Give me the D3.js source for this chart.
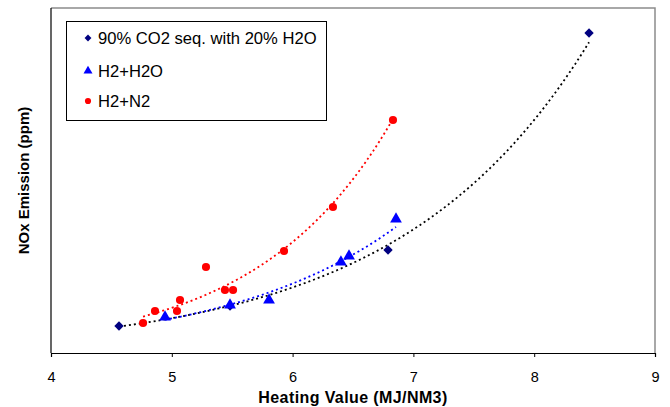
<!DOCTYPE html>
<html><head><meta charset="utf-8">
<script src="https://cdn.jsdelivr.net/npm/d3@7"></script>
<style>body{margin:0;background:#fff}svg{display:block}</style>
</head><body>
<script>
// Data (y in relative units; the original chart shows no y tick labels)
const seriesNames = ["90% CO2 seq. with 20% H2O", "H2+H2O", "H2+N2"];
const co2X = [4.563, 5.482, 6.79, 8.454];
const co2Y = [7.83, 13.62, 29.86, 92.75];
const h2oX = [4.944, 5.482, 5.805, 6.40, 6.467, 6.856];
const h2oY = [10.43, 13.91, 15.36, 26.38, 28.12, 38.84];
const n2X = [4.762, 4.861, 5.043, 5.068, 5.283, 5.44, 5.507, 5.929, 6.334, 6.831];
const n2Y = [8.70, 12.17, 12.17, 15.36, 24.93, 18.26, 18.26, 29.57, 42.32, 67.54];
const xTicks = [4, 5, 6, 7, 8, 9];

const W = 670, H = 407;
const L = 51, R = 655, T = 8, B = 353;
const svg = d3.select("body").append("svg").attr("width", W).attr("height", H);
const x = d3.scaleLinear().domain([4, 9]).range([L, R]);
const y = d3.scaleLinear().domain([0, 100]).range([B, T]);

// plot frame (gray top/right)
svg.append("path").attr("d", `M${L},${T}H${R}V${B}`).attr("fill", "none").attr("stroke", "#8c8c8c").attr("stroke-width", 1.5);

// axes
const xAxis = svg.append("g").attr("transform", `translate(0,${B})`)
  .call(d3.axisBottom(x).tickValues(xTicks).tickSize(4).tickPadding(15).tickFormat(d3.format("d")));
xAxis.select(".domain").attr("stroke", "#000").attr("stroke-width", 1.2);
xAxis.selectAll(".tick line").attr("stroke", "#000");
xAxis.selectAll("text").attr("font-family", "Liberation Sans, Arial, sans-serif").attr("font-size", 14.5).attr("fill", "#000");
svg.append("line").attr("x1", L).attr("x2", L).attr("y1", T).attr("y2", B).attr("stroke", "#000").attr("stroke-width", 1.2);

// axis titles
svg.append("text").attr("x", (L + R) / 2).attr("y", 403).attr("text-anchor", "middle")
  .attr("font-family", "Liberation Sans, Arial, sans-serif").attr("font-weight", "bold").attr("font-size", 16)
  .attr("letter-spacing", 0.4)
  .text("Heating Value (MJ/NM3)");
svg.append("text").attr("transform", `translate(29,${(T + B) / 2}) rotate(-90)`).attr("text-anchor", "middle")
  .attr("font-family", "Liberation Sans, Arial, sans-serif").attr("font-weight", "bold").attr("font-size", 15)
  .text("NOx Emission (ppm)");

// exponential trendline fit (least squares on ln y)
function expFit(xs, ys) {
  const n = xs.length, ly = ys.map(Math.log);
  const mx = d3.mean(xs), my = d3.mean(ly);
  let sxx = 0, sxy = 0;
  for (let i = 0; i < n; i++) { sxx += (xs[i] - mx) ** 2; sxy += (xs[i] - mx) * (ly[i] - my); }
  const b = sxy / sxx, a = my - b * mx;
  return v => Math.exp(a + b * v);
}
function trend(xs, ys, color) {
  const f = expFit(xs, ys);
  const [x0, x1] = d3.extent(xs);
  const pts = d3.range(0, 101).map(i => x0 + (x1 - x0) * i / 100);
  svg.append("path").datum(pts)
    .attr("d", d3.line().x(d => x(d)).y(d => y(f(d))))
    .attr("fill", "none").attr("stroke", color).attr("stroke-width", 1.8).attr("stroke-dasharray", "2,3");
}
trend(co2X, co2Y, "#000");
trend(h2oX, h2oY, "#0000ff");
trend(n2X, n2Y, "#ff0000");

const diamond = d3.symbol().type(d3.symbolDiamond2).size(56);
const tri = d3.symbol().type(d3.symbolTriangle).size(60);
const circ = d3.symbol().type(d3.symbolCircle).size(52);

function points(xs, ys, sym, color) {
  svg.append("g").selectAll("path").data(xs.map((v, i) => [v, ys[i]])).join("path")
    .attr("transform", d => `translate(${x(d[0])},${y(d[1])})`).attr("d", sym).attr("fill", color);
}
points(co2X, co2Y, diamond, "#000080");
points(h2oX, h2oY, tri, "#0000ff");
points(n2X, n2Y, circ, "#ff0000");

// legend
const lg = svg.append("g");
lg.append("rect").attr("x", 66.5).attr("y", 21.5).attr("width", 260).attr("height", 99).attr("fill", "#fff").attr("stroke", "#000").attr("stroke-width", 1);
const legColors = ["#000080", "#0000ff", "#ff0000"];
const legY = [38, 71, 101];
seriesNames.forEach((nm, i) => {
  const sym = d3.symbol().type([d3.symbolDiamond2, d3.symbolTriangle, d3.symbolCircle][i]).size([30, 35, 30][i]);
  lg.append("path").attr("transform", `translate(88,${legY[i]})`).attr("d", sym).attr("fill", legColors[i]);
  lg.append("text").attr("x", 98).attr("y", legY[i] + 5.5).attr("font-family", "Liberation Sans, Arial, sans-serif")
    .attr("font-size", 16.6).attr("fill", "#000").text(nm);
});
</script>
</body></html>
